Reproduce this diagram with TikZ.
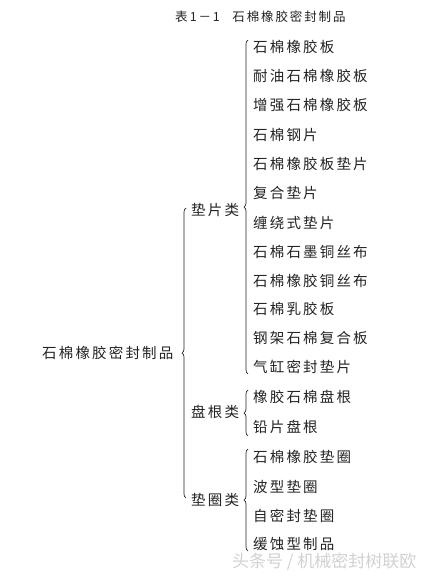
\documentclass[tikz,border=0pt]{standalone}
\usepackage{fontspec}
\newfontfamily\cjk[LetterSpace=15]{Noto Sans CJK SC}
\newfontfamily\cjkw{Noto Sans CJK SC}
\usetikzlibrary{decorations.pathreplacing}
\definecolor{ink}{HTML}{222222}
\tikzset{
  item/.style={anchor=west, inner sep=0pt, font=\cjk\fontsize{14.5}{14.5}\selectfont, text=ink},
  brc/.style={draw=ink, line width=0.7pt, decorate, decoration={brace, amplitude=4pt}},
}
\begin{document}
\begin{tikzpicture}[x=1pt, y=-1pt]
\useasboundingbox (0,0) rectangle (431,576);
\node[anchor=west, inner sep=0pt, text=ink, font=\cjk\fontsize{12.5}{12.5}\selectfont] (title) at (175,17) {表\,1－1\quad 石棉橡胶密封制品};
% root
\node[item] (root) at (42,353) {石棉橡胶密封制品};
% middle
\node[item] (g1) at (191,210) {垫片类};
\node[item] (g2) at (191,412) {盘根类};
\node[item] (g3) at (191,500) {垫圈类};
% leaves group 1
\node[item] (a1) at (253,47) {石棉橡胶板};
\node[item] (a2) at (253,76) {耐油石棉橡胶板};
\node[item] (a3) at (253,105) {增强石棉橡胶板};
\node[item] (a4) at (253,135) {石棉钢片};
\node[item] (a5) at (253,164) {石棉橡胶板垫片};
\node[item] (a6) at (253,193) {复合垫片};
\node[item] (a7) at (253,223) {缠绕式垫片};
\node[item] (a8) at (253,252) {石棉石墨铜丝布};
\node[item] (a9) at (253,281) {石棉橡胶铜丝布};
\node[item] (a10) at (253,309) {石棉乳胶板};
\node[item] (a11) at (253,338) {钢架石棉复合板};
\node[item] (a12) at (253,367) {气缸密封垫片};
% group 2
\node[item] (b1) at (253,397) {橡胶石棉盘根};
\node[item] (b2) at (253,427) {铅片盘根};
% group 3
\node[item] (c1) at (253,457) {石棉橡胶垫圈};
\node[item] (c2) at (253,487) {波型垫圈};
\node[item] (c3) at (253,516) {自密封垫圈};
\node[item] (c4) at (253,544) {缓蚀型制品};
% watermark
\node[anchor=west, inner sep=0pt, text=black!18, font=\cjkw\fontsize{17}{17}\selectfont] (wm) at (232,562) {头条号 / 机械密封树联欧};
% brace end points
\coordinate (rb) at (186,498); \coordinate (rt) at (186,208);
\coordinate (ab) at (248,374); \coordinate (at) at (248,40);
\coordinate (bb) at (248,436); \coordinate (bt) at (248,390);
\coordinate (cb) at (248,551); \coordinate (ct) at (248,449);
\draw[brc] (rb) -- (rt);
\draw[brc] (ab) -- (at);
\draw[brc] (bb) -- (bt);
\draw[brc] (cb) -- (ct);
\end{tikzpicture}
\end{document}
